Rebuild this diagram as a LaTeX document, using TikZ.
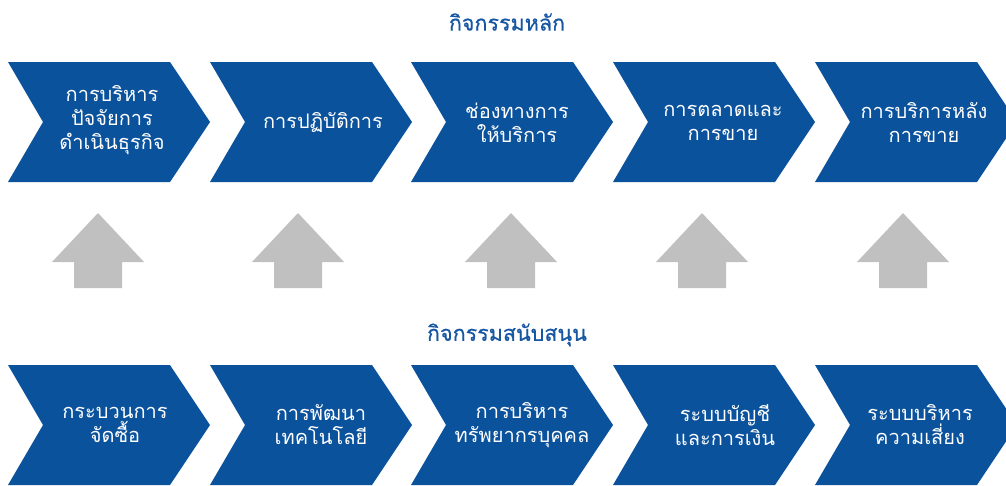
\documentclass[tikz,border=0pt]{standalone}
\usepackage{fontspec}
\newfontfamily\thaifont[Script=Thai]{Loma}
\newfontfamily\thaititle[Script=Thai,FakeBold=0.5]{Loma}
\definecolor{chev}{RGB}{11,82,156}
\definecolor{ttl}{RGB}{22,86,162}
\definecolor{arr}{RGB}{192,192,192}
\begin{document}
\begin{tikzpicture}[x=1pt,y=-1pt,
  chevfill/.style={fill=chev},
  chevtext/.style={text=white,font=\thaifont\fontsize{20}{24}\selectfont,align=center,inner sep=0pt},
  titletext/.style={text=ttl,font=\thaititle\fontsize{21.5}{25}\selectfont,inner sep=0pt},
  uparrow/.style={fill=arr}]
\useasboundingbox (0,0) rectangle (1006,485);
\clip (0,0) rectangle (1006,485);
% top row chevrons
\foreach \x in {8,210,411,613,815} {
  \path[chevfill] (\x,62) -- ++(162,0) -- ++(40,60) -- ++(-40,60) -- ++(-162,0) -- ++(35,-60) -- cycle;
}
% bottom row chevrons
\foreach \x in {8,210,411,613,815} {
  \path[chevfill] (\x,365) -- ++(162,0) -- ++(40,60) -- ++(-40,60) -- ++(-162,0) -- ++(35,-60) -- cycle;
}
% up arrows
\foreach \c in {98,298,511,702,903} {
  \path[uparrow] (\c,213) -- (\c+46,262) -- (\c+24,262) -- (\c+24,288) -- (\c-24,288) -- (\c-24,262) -- (\c-46,262) -- cycle;
}
% titles
\node[titletext] (t1) at (507,22) {กิจกรรมหลัก};
\node[titletext] (t2) at (507,335) {กิจกรรมสนับสนุน};
% top row texts
\node[chevtext] (a1) at (112,120) {การบริหาร\\ปัจจัยการ\\ดำเนินธุรกิจ};
\node[chevtext] (a2) at (323,122) {การปฏิบัติการ};
\node[chevtext] (a3) at (517,123) {ช่องทางการ\\ให้บริการ};
\node[chevtext] (a4) at (723,123) {การตลาดและ\\การขาย};
\node[chevtext] (a5) at (924,123) {การบริการหลัง\\การขาย};
% bottom row texts
\node[chevtext] (b1) at (115,425) {กระบวนการ\\จัดซื้อ};
\node[chevtext] (b2) at (321,425) {การพัฒนา\\เทคโนโลยี};
\node[chevtext] (b3) at (522,425) {การบริหาร\\ทรัพยากรบุคคล};
\node[chevtext] (b4) at (725,425) {ระบบบัญชี\\และการเงิน};
\node[chevtext] (b5) at (920,425) {ระบบบริหาร\\ความเสี่ยง};
\end{tikzpicture}
\end{document}
